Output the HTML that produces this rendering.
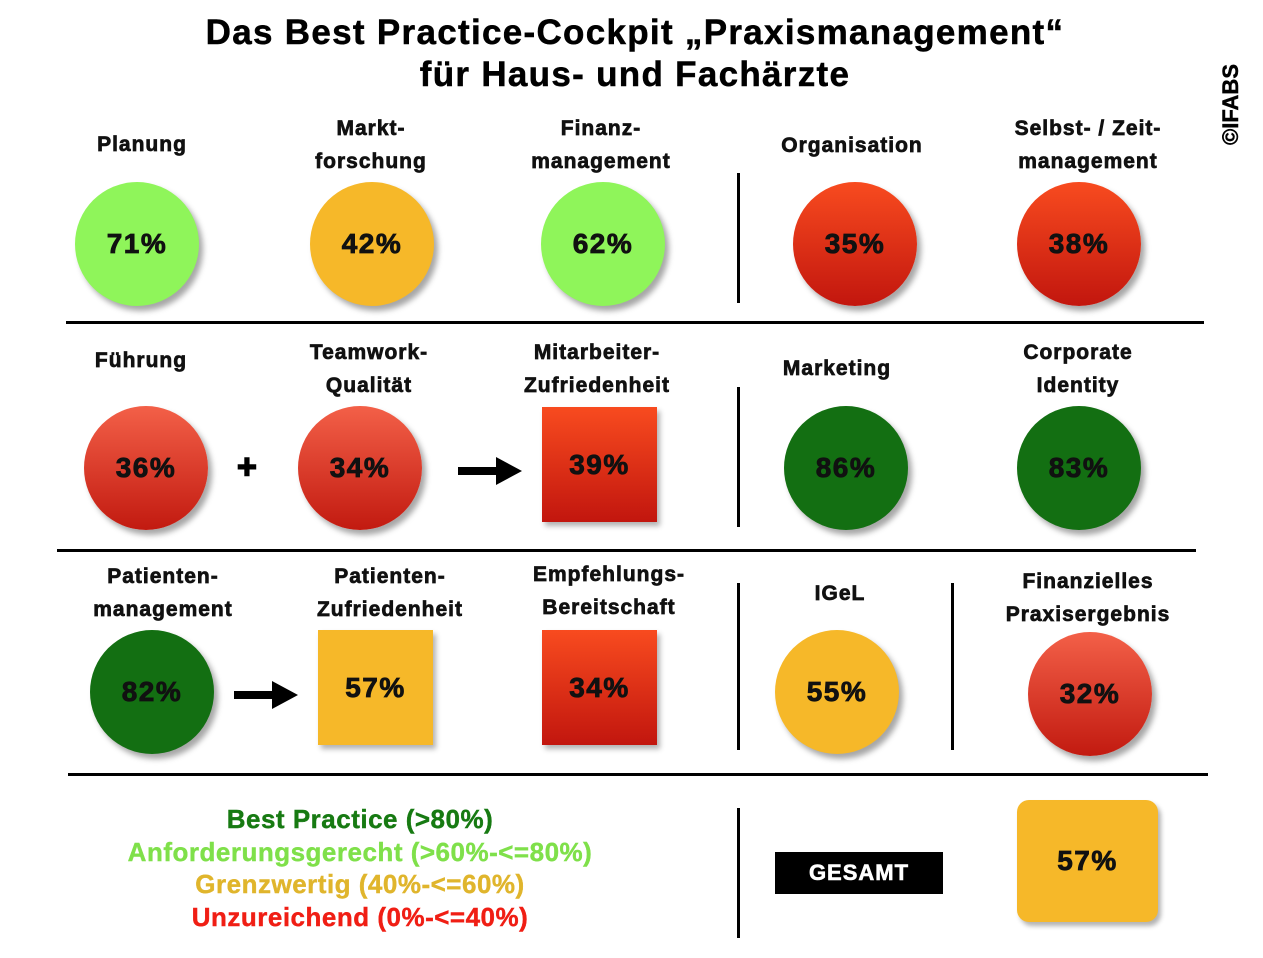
<!DOCTYPE html>
<html><head><meta charset="utf-8"><style>
body{margin:0;width:1263px;height:958px;background:#fff;position:relative;overflow:hidden;font-family:"Liberation Sans",sans-serif;}
.a{position:absolute}
.t{position:absolute;font-weight:bold;font-size:21px;text-align:center;line-height:33px;color:#111;width:260px;transform:translateX(-50%);letter-spacing:1px;-webkit-text-stroke:0.7px #111}
.c{position:absolute;width:124px;height:124px;border-radius:50%;display:flex;align-items:center;justify-content:center;font-weight:bold;font-size:28px;color:#111;box-shadow:4px 5px 6px rgba(0,0,0,.35);transform:translate(-50%,-50%);letter-spacing:1.5px;-webkit-text-stroke:0.8px #111}
.s{position:absolute;width:115px;height:115px;display:flex;align-items:center;justify-content:center;font-weight:bold;font-size:28px;color:#111;box-shadow:3px 4px 5px rgba(0,0,0,.3);letter-spacing:1.5px;-webkit-text-stroke:0.8px #111}
.lg{background:#8ff55a}.or{background:#f6b829}.dg{background:#136f12}
.rd{background:linear-gradient(#f36048,#c21a10)}
.ro{background:linear-gradient(#f84b1f,#c2160e)}
.h{position:absolute;height:3px;background:#000}
.v{position:absolute;width:3px;background:#000}
.ar{position:absolute;width:40px;height:8px;background:#000}
.ar:after{content:"";position:absolute;left:38px;top:-10px;border-left:26px solid #000;border-top:14px solid transparent;border-bottom:14px solid transparent}
</style></head><body>
<div class="a" style="left:0;width:1270px;top:12px;text-align:center;font-weight:bold;font-size:35px;line-height:42px;color:#000;letter-spacing:1.3px;-webkit-text-stroke:0.5px #000">Das Best Practice-Cockpit „Praxismanagement“<br>für Haus- und Fachärzte</div>
<div class="a" style="left:1218px;top:145px;transform:rotate(-90deg);transform-origin:0 0;font-weight:bold;font-size:22px;-webkit-text-stroke:0.5px #000">©IFABS</div>

<div class="t" style="left:142px;top:128px">Planung</div>
<div class="t" style="left:371px;top:112px">Markt-<br>forschung</div>
<div class="t" style="left:601px;top:112px">Finanz-<br>management</div>
<div class="t" style="left:852px;top:129px">Organisation</div>
<div class="t" style="left:1088px;top:112px">Selbst- / Zeit-<br>management</div>
<div class="c lg" style="left:137px;top:244px">71%</div>
<div class="c or" style="left:372px;top:244px">42%</div>
<div class="c lg" style="left:603px;top:244px">62%</div>
<div class="c ro" style="left:855px;top:244px">35%</div>
<div class="c ro" style="left:1079px;top:244px">38%</div>
<div class="v" style="left:737px;top:173px;height:130px"></div>
<div class="h" style="left:66px;top:321px;width:1138px"></div>

<div class="t" style="left:141px;top:344px">Führung</div>
<div class="t" style="left:369px;top:336px">Teamwork-<br>Qualität</div>
<div class="t" style="left:597px;top:336px">Mitarbeiter-<br>Zufriedenheit</div>
<div class="t" style="left:837px;top:352px">Marketing</div>
<div class="t" style="left:1078px;top:336px">Corporate<br>Identity</div>
<div class="c rd" style="left:146px;top:468px">36%</div>
<div class="a" style="left:237px;top:448px;font-weight:bold;font-size:34px;-webkit-text-stroke:1.5px #000">+</div>
<div class="c rd" style="left:360px;top:468px">34%</div>
<div class="ar" style="left:458px;top:467px"></div>
<div class="s ro" style="left:542px;top:407px;align-items:flex-start"><span style="margin-top:42px">39%</span></div>
<div class="v" style="left:737px;top:387px;height:140px"></div>
<div class="c dg" style="left:846px;top:468px">86%</div>
<div class="c dg" style="left:1079px;top:468px">83%</div>
<div class="h" style="left:57px;top:549px;width:1139px"></div>

<div class="t" style="left:163px;top:560px">Patienten-<br>management</div>
<div class="t" style="left:390px;top:560px">Patienten-<br>Zufriedenheit</div>
<div class="t" style="left:609px;top:558px">Empfehlungs-<br>Bereitschaft</div>
<div class="t" style="left:840px;top:577px">IGeL</div>
<div class="t" style="left:1088px;top:565px">Finanzielles<br>Praxisergebnis</div>
<div class="c dg" style="left:152px;top:692px">82%</div>
<div class="ar" style="left:234px;top:691px"></div>
<div class="s or" style="left:318px;top:630px">57%</div>
<div class="s ro" style="left:542px;top:630px">34%</div>
<div class="v" style="left:737px;top:583px;height:167px"></div>
<div class="v" style="left:951px;top:583px;height:167px"></div>
<div class="c or" style="left:837px;top:692px">55%</div>
<div class="c rd" style="left:1090px;top:694px">32%</div>
<div class="h" style="left:68px;top:773px;width:1140px"></div>

<div class="a" style="left:60px;width:600px;top:803px;text-align:center;font-weight:bold;font-size:26px;line-height:32.5px;letter-spacing:0.5px">
<div style="color:#177a12;-webkit-text-stroke:0.4px #177a12">Best Practice (&gt;80%)</div>
<div style="color:#7fe04a;-webkit-text-stroke:0.4px #7fe04a">Anforderungsgerecht (&gt;60%-&lt;=80%)</div>
<div style="color:#e0b52c;-webkit-text-stroke:0.4px #e0b52c">Grenzwertig (40%-&lt;=60%)</div>
<div style="color:#f01e14;-webkit-text-stroke:0.4px #f01e14">Unzureichend (0%-&lt;=40%)</div>
</div>
<div class="v" style="left:737px;top:808px;height:130px"></div>
<div class="a" style="left:775px;top:852px;width:168px;height:42px;background:#000;color:#fff;font-weight:bold;font-size:22px;display:flex;align-items:center;justify-content:center;letter-spacing:1px;-webkit-text-stroke:0.6px #fff">GESAMT</div>
<div class="s or" style="left:1017px;top:800px;width:141px;height:122px;border-radius:12px">57%</div>
</body></html>
